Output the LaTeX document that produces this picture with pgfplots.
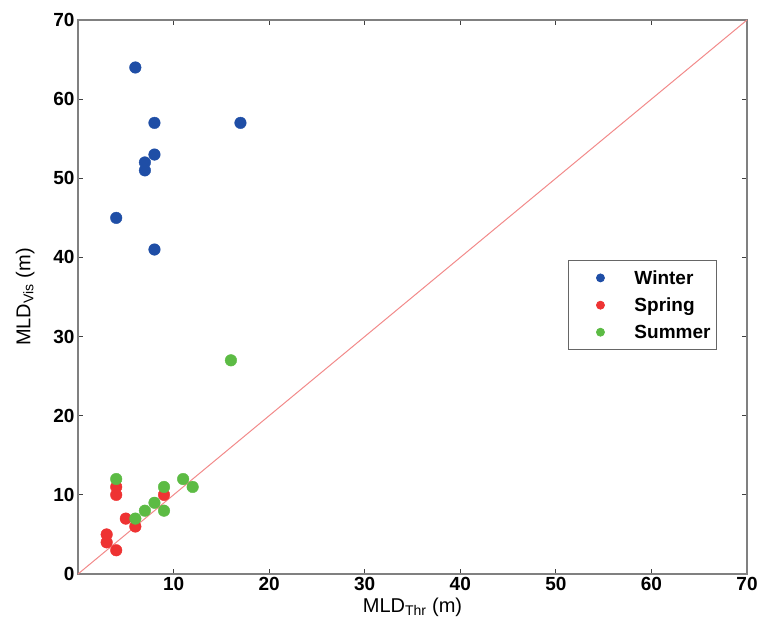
\documentclass[border=0pt]{standalone}
\usepackage{fontspec}
\setmainfont{Liberation Sans}
\usepackage{pgfplots}
\pgfplotsset{compat=1.18}

\definecolor{winter}{HTML}{1F4EA6}
\definecolor{spring}{HTML}{EE3333}
\definecolor{summer}{HTML}{5CBB44}
\definecolor{oneline}{HTML}{F28A8A}

\begin{document}
\begin{tikzpicture}
\begin{axis}[
  scale only axis,
  width=669pt, height=554pt,
  xmin=0, xmax=70, ymin=0, ymax=70,
  xtick={10,20,...,70},
  ytick={0,10,...,70},
  tick align=inside,
  major tick length=5pt,
  tick style={black!75, line width=1pt},
  axis line style={black!50, line width=1.2pt},
  ticklabel style={font=\fontsize{19}{19}\selectfont\bfseries},
  /pgf/number format/assume math mode=true,
  xlabel={MLD$_{\mathrm{Thr}}$ (m)},
  ylabel={MLD$_{\mathrm{Vis}}$ (m)},
  label style={font=\fontsize{20}{20}\selectfont},
  xlabel style={yshift=0pt},
  ylabel style={yshift=12pt},
  legend style={at={(0.955,0.567)}, anchor=north east,
    draw=black!60, line width=0.8pt,
    font=\fontsize{19}{19}\selectfont\bfseries,
    row sep=8pt, inner xsep=4pt, inner ysep=8pt},
  legend cell align=left,
  legend image code/.code={\path[draw=none,fill=none] (-10pt,0pt) -- (50pt,0pt); \draw[#1] (18pt,0pt) circle (4pt);},
]
\addplot[oneline, line width=1pt, forget plot] coordinates {(0,0) (70,70)};
\addplot[only marks, mark=*, mark size=5.8pt, draw=winter, fill=winter, mark options={draw=winter, fill=winter}] coordinates {
  (6,64) (8,57) (17,57) (8,53) (7,52) (7,51) (4,45) (8,41)
};
\addlegendentry{Winter}
\addplot[only marks, mark=*, mark size=5.8pt, draw=spring, fill=spring, mark options={draw=spring, fill=spring}] coordinates {
  (3,5) (3,4) (4,3) (4,11) (4,10) (5,7) (6,6) (9,10)
};
\addlegendentry{Spring}
\addplot[only marks, mark=*, mark size=5.8pt, draw=summer, fill=summer, mark options={draw=summer, fill=summer}] coordinates {
  (4,12) (6,7) (7,8) (8,9) (9,11) (9,8) (11,12) (12,11) (16,27)
};
\addlegendentry{Summer}
\end{axis}
\useasboundingbox ([xshift=-78pt,yshift=-58pt]current axis.south west) rectangle ([xshift=14pt,yshift=20pt]current axis.north east);
\end{tikzpicture}
\end{document}
